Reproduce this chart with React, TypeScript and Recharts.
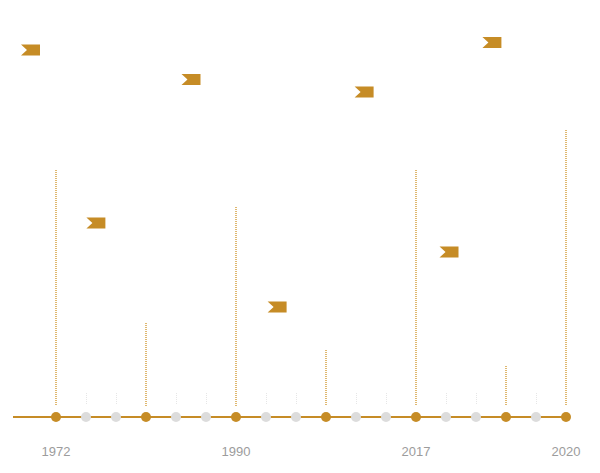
import React from "react";
import { ComposedChart, XAxis, YAxis, Bar, Scatter } from "recharts";

const GOLD = "#c68c26";
const GREY = "#dcdcdc";

// 18 timeline slots (index positions along the axis)
const slotKinds = ["major", "minor", "minor", "major", "minor", "minor", "major", "minor", "minor", "major", "minor", "minor", "major", "minor", "minor", "major", "minor", "major"];
const stemTops = [61.75, 6, 6, 23.5, 6, 6, 52.5, 6, 6, 16.75, 6, 6, 61.75, 6, 6, 12.75, 6, 71.75];
const stemBase = 2.75;

const tickPositions = [0, 6, 12, 17];
const tickLabels = ["1972", "1990", "2017", "2020"];

const flagX = [-0.85, 4.5, 1.33, 7.37, 10.27, 13.1, 14.53];
const flagY = [91.75, 84.4, 48.5, 27.5, 81.25, 41.25, 93.6];

const slots = slotKinds.map((kind, i) => ({
  x: i,
  y: 0,
  kind,
  stem: [kind === "major" ? stemBase : 3, stemTops[i]],
}));

const flags = flagX.map((x, i) => ({ x, y: flagY[i] }));

const StemShape = (props: any) => {
  const { x, y, width, height, payload } = props;
  if (height == null || isNaN(height)) return null;
  const major = payload.kind === "major";
  const cx = major ? Math.round(x + width / 2) : Math.round(x + width / 2) + 0.5;
  return (
    <line
      x1={cx}
      x2={cx}
      y1={y}
      y2={y + height}
      stroke={major ? "#dfb870" : "#e6e6e6"}
      strokeWidth={major ? 2 : 1}
      strokeDasharray="1 1"
    />
  );
};

const DotShape = (props: any) => {
  const { cx, cy, payload } = props;
  return <circle cx={cx} cy={cy} r={5} fill={payload.kind === "major" ? GOLD : GREY} />;
};

const FlagShape = (props: any) => {
  const { cx, cy } = props;
  const w = 19;
  const h = 11;
  const l = cx - w / 2;
  const r = cx + w / 2;
  const t = cy - h / 2;
  const b = cy + h / 2;
  return <path d={`M${l},${t}L${r},${t}L${r},${b}L${l},${b}L${l + 6},${cy}Z`} fill={GOLD} />;
};

export default function App() {
  return (
    <ComposedChart
      width={592}
      height={465}
      data={slots}
      margin={{ top: 9, right: 33, bottom: 26, left: 5 }}
    >
      <XAxis
        dataKey="x"
        type="number"
        domain={[-1.433, 17.033]}
        ticks={tickPositions}
        tickFormatter={(v: number) => tickLabels[tickPositions.indexOf(v)] ?? ""}
        axisLine={{ stroke: GOLD, strokeWidth: 2 }}
        tickLine={false}
        tickMargin={24}
        height={30}
        interval={0}
        tick={{ fill: "#9c9c9c", fontSize: 13, fontFamily: "Liberation Sans, Arial, sans-serif" }}
      />
      <YAxis dataKey="y" type="number" domain={[0, 100]} hide width={0} />
      <Bar dataKey="stem" barSize={4} shape={StemShape} isAnimationActive={false} />
      <Scatter data={slots} dataKey="y" shape={DotShape} isAnimationActive={false} />
      <Scatter data={flags} dataKey="y" shape={FlagShape} isAnimationActive={false} />
    </ComposedChart>
  );
}
